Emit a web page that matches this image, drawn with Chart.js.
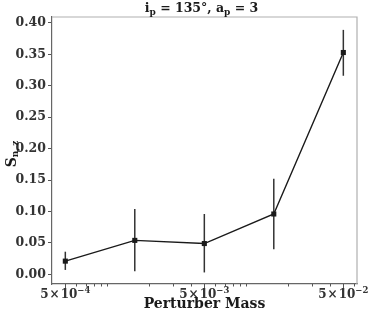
<!DOCTYPE html>
<html>
<head>
<meta charset="utf-8">
<script src="https://cdn.jsdelivr.net/npm/chart.js@4.4.1/dist/chart.umd.min.js"></script>
<style>
  html, body { margin: 0; padding: 0; background: #fff; }
  #wrap { width: 374px; height: 317px; }
</style>
</head>
<body>
<div id="wrap"><canvas id="chart"></canvas></div>
<script>
// data
const massValues = [5e-4, 1.58e-3, 5e-3, 1.58e-2, 5e-2];
const snzValues  = [0.021, 0.054, 0.049, 0.096, 0.353];
const errLow     = [0.007, 0.005, 0.003, 0.040, 0.316];
const errHigh    = [0.036, 0.104, 0.096, 0.152, 0.389];

const yTicks = [0, 0.05, 0.10, 0.15, 0.20, 0.25, 0.30, 0.35, 0.40];
const xMajorTicks = [5e-4, 5e-3, 5e-2];
const xMajorExps  = ["\u22124", "\u22123", "\u22122"];
const xMinorTicks = [6e-4, 7e-4, 8e-4, 9e-4,
  1e-3, 2e-3, 3e-3, 4e-3, 6e-3, 7e-3, 8e-3, 9e-3,
  1e-2, 2e-2, 3e-2, 4e-2, 6e-2];

const SERIF = "'DejaVu Serif', serif";
const INK = "#1a1a1a";

// draws a run of [text, size, dy] pieces starting at x
function drawRuns(ctx, runs, x, y) {
  runs.forEach(r => {
    ctx.font = `bold ${r[1]}px ${SERIF}`;
    ctx.fillText(r[0], x, y + (r[2] || 0));
    x += ctx.measureText(r[0]).width + (r[3] || 0);
  });
}
function runsWidth(ctx, runs) {
  let w = 0;
  runs.forEach(r => { ctx.font = `bold ${r[1]}px ${SERIF}`; w += ctx.measureText(r[0]).width + (r[3] || 0); });
  return w;
}

const extras = {
  id: "extras",
  beforeDatasetsDraw(chart) {
    const {ctx, scales: {x, y}} = chart;
    ctx.save();
    // error bars
    ctx.strokeStyle = "#333";
    ctx.lineWidth = 1.5;
    massValues.forEach((m, i) => {
      const px = x.getPixelForValue(m);
      ctx.beginPath();
      ctx.moveTo(px, y.getPixelForValue(errLow[i]));
      ctx.lineTo(px, y.getPixelForValue(errHigh[i]));
      ctx.stroke();
    });
    ctx.restore();
  },
  afterDraw(chart) {
    const {ctx, chartArea: a, scales: {x}} = chart;
    ctx.save();
    // top / right frame, lighter
    ctx.strokeStyle = "#b0b0b0";
    ctx.lineWidth = 1.2;
    ctx.beginPath();
    ctx.moveTo(a.left, a.top); ctx.lineTo(a.right, a.top); ctx.lineTo(a.right, a.bottom);
    ctx.stroke();

    // x ticks
    ctx.strokeStyle = "#555";
    ctx.lineWidth = 1;
    xMajorTicks.forEach(v => {
      const px = Math.round(x.getPixelForValue(v)) + 0.5;
      ctx.beginPath(); ctx.moveTo(px, a.bottom); ctx.lineTo(px, a.bottom + 4.5); ctx.stroke();
    });
    xMinorTicks.forEach(v => {
      const px = Math.round(x.getPixelForValue(v)) + 0.5;
      ctx.beginPath(); ctx.moveTo(px, a.bottom); ctx.lineTo(px, a.bottom + 2.5); ctx.stroke();
    });

    // x tick labels  5 x 10^n
    ctx.fillStyle = "#333";
    ctx.textBaseline = "alphabetic";
    ctx.textAlign = "left";
    xMajorTicks.forEach((v, i) => {
      const runs = [["5", 12, 0, 1], ["\u00d7", 12, 0, 1], ["10", 12, 0], [xMajorExps[i], 8.5, -5]];
      const w = runsWidth(ctx, runs);
      drawRuns(ctx, runs, x.getPixelForValue(v) - w / 2, a.bottom + 14);
    });

    // x title
    ctx.fillStyle = INK;
    ctx.font = `bold 14px ${SERIF}`;
    ctx.textAlign = "center";
    ctx.fillText("Perturber Mass", (a.left + a.right) / 2, 308);

    // title  i_p = 135°, a_p = 3
    ctx.textAlign = "left";
    const tRuns = [["i", 12.5, 0], ["p", 9, 3], [" = 135\u00b0, a", 12.5, 0], ["p", 9, 3], [" = 3", 12.5, 0]];
    const tw = runsWidth(ctx, tRuns);
    drawRuns(ctx, tRuns, (a.left + a.right) / 2 - 3 - tw / 2, 12);

    // y title  S_n,z rotated
    ctx.translate(16, 154);
    ctx.rotate(-Math.PI / 2);
    const yRuns = [["S", 14, 0], ["n,\u2009z", 9, 1.5]];
    const yw = runsWidth(ctx, yRuns);
    drawRuns(ctx, yRuns, -yw / 2, 0);
    ctx.restore();
  }
};

new Chart(document.getElementById("chart"), {
  type: "line",
  data: {
    datasets: [{
      data: massValues.map((m, i) => ({x: m, y: snzValues[i]})),
      borderColor: INK,
      borderWidth: 1.4,
      pointStyle: "rect",
      pointRadius: 3.6,
      pointBackgroundColor: INK,
      pointBorderColor: INK,
      pointBorderWidth: 0,
      tension: 0
    }]
  },
  options: {
    responsive: true,
    maintainAspectRatio: false,
    animation: false,
    layout: {padding: {left: 0, right: 17, top: 17, bottom: 0}},
    plugins: {legend: {display: false}, tooltip: {enabled: false}},
    scales: {
      x: {
        type: "logarithmic",
        min: 4.01e-4,
        max: 6.27e-2,
        grid: {display: false},
        border: {display: true, color: "#666", width: 1.2},
        ticks: {display: false},
        afterFit(s) { s.height = 33; }
      },
      y: {
        min: -0.0154,
        max: 0.4095,
        afterBuildTicks(s) { s.ticks = yTicks.map(v => ({value: v})); },
        grid: {display: true, drawOnChartArea: false, tickLength: 4, color: "#555"},
        border: {display: true, color: "#666", width: 1.2},
        ticks: {
          padding: 2,
          color: "#333",
          font: {family: SERIF, size: 12.5, weight: "bold"},
          callback: v => v.toFixed(2)
        },
        afterFit(s) { s.width = 52; }
      }
    }
  },
  plugins: [extras]
});
</script>
</body>
</html>
